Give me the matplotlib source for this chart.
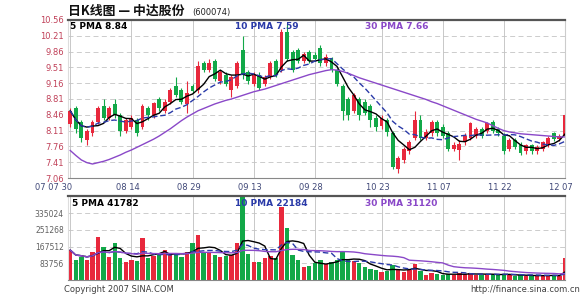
import matplotlib.pyplot as plt
import numpy as np
import pandas as pd
from matplotlib.transforms import blended_transform_factory

plt.rcParams['font.family'] = ['Noto Sans CJK SC', 'DejaVu Sans']

# daily candles, trading days 07-30 .. 12-07
opens = [8.25, 8.60, 8.30, 7.90, 8.05, 8.30, 8.65, 8.40, 8.70, 8.45,
         8.10, 8.20, 8.35, 8.20, 8.60, 8.45, 8.80, 8.55, 8.75, 9.10,
         9.00, 8.70, 9.10, 9.00, 9.60, 9.45, 9.65, 9.20, 9.35, 9.00,
         9.10, 9.90, 9.40, 9.15, 9.35, 9.15, 9.30, 9.65, 9.45, 10.30,
         9.85, 9.90, 9.65, 9.85, 9.78, 9.95, 9.60, 9.70, 9.45, 9.10,
         8.80, 8.55, 8.80, 8.75, 8.65, 8.40, 8.22, 8.35, 8.05, 7.25,
         7.45, 7.65, 7.95, 8.35, 7.95, 8.05, 8.30, 8.20, 8.05, 7.70,
         7.68, 7.85, 7.95, 8.00, 8.15, 8.10, 8.30, 8.15, 8.00, 7.70,
         7.90, 7.80, 7.65, 7.78, 7.65, 7.70, 7.80, 8.05, 7.92, 8.00]
closes = [8.55, 8.15, 7.95, 8.10, 8.30, 8.60, 8.40, 8.60, 8.45, 8.10,
          8.35, 8.38, 8.05, 8.65, 8.45, 8.72, 8.60, 8.75, 9.02, 8.90,
          8.75, 8.95, 8.98, 9.55, 9.45, 9.60, 9.25, 9.40, 9.15, 9.30,
          9.60, 9.35, 9.20, 9.35, 9.05, 9.30, 9.60, 9.35, 10.30, 9.70,
          9.45, 9.65, 9.80, 9.65, 9.70, 9.60, 9.75, 9.45, 9.15, 8.55,
          8.45, 8.90, 8.45, 8.50, 8.35, 8.20, 8.38, 8.08, 7.30, 7.50,
          7.70, 7.85, 8.35, 7.95, 8.08, 8.30, 8.05, 8.00, 7.70, 7.80,
          7.82, 8.00, 8.28, 8.15, 8.00, 8.28, 8.10, 8.05, 7.65, 7.90,
          7.75, 7.62, 7.78, 7.65, 7.75, 7.85, 7.95, 7.92, 8.00, 8.45]
highs = [8.60, 8.65, 8.35, 8.15, 8.35, 8.65, 8.80, 8.65, 8.80, 8.50,
         8.40, 8.45, 8.40, 8.70, 8.65, 8.75, 8.85, 8.80, 9.05, 9.30,
         9.05, 9.20, 9.15, 9.65, 9.65, 9.70, 9.70, 9.45, 9.40, 9.35,
         9.65, 10.20, 9.45, 9.40, 9.40, 9.35, 9.65, 9.70, 10.35, 10.50,
         9.90, 9.95, 9.85, 9.90, 9.85, 10.00, 9.80, 9.75, 9.50, 9.15,
         8.85, 8.95, 8.85, 8.80, 8.70, 8.45, 8.45, 8.40, 8.10, 7.55,
         7.75, 7.90, 8.55, 8.45, 8.15, 8.35, 8.35, 8.25, 8.10, 7.85,
         7.90, 8.05, 8.30, 8.20, 8.20, 8.30, 8.35, 8.20, 8.05, 7.95,
         7.95, 7.85, 7.82, 7.82, 7.78, 7.88, 7.98, 8.08, 8.03, 8.50]
lows = [8.20, 8.05, 7.85, 7.80, 8.00, 8.25, 8.35, 8.35, 8.40, 8.00,
        8.05, 8.15, 8.00, 8.15, 8.35, 8.40, 8.55, 8.50, 8.70, 8.85,
        8.70, 8.50, 8.95, 8.95, 9.40, 9.40, 9.20, 9.15, 9.10, 8.85,
        9.05, 9.25, 9.15, 9.10, 9.00, 9.10, 9.25, 9.30, 9.40, 9.65,
        9.40, 9.60, 9.60, 9.60, 9.65, 9.55, 9.55, 9.40, 9.10, 8.35,
        8.35, 8.50, 8.35, 8.45, 8.20, 8.10, 8.15, 8.00, 7.25, 7.18,
        7.40, 7.60, 7.90, 7.90, 7.90, 8.00, 8.00, 7.95, 7.65, 7.65,
        7.45, 7.80, 7.90, 7.95, 7.95, 8.05, 8.05, 8.00, 7.60, 7.65,
        7.70, 7.58, 7.60, 7.60, 7.60, 7.65, 7.75, 7.88, 7.88, 7.98]
volumes = [150000, 100000, 115000, 100000, 140000, 215000, 165000, 115000, 185000, 110000,
           90000, 100000, 95000, 210000, 110000, 120000, 125000, 150000, 135000, 130000,
           115000, 140000, 185000, 225000, 140000, 135000, 125000, 115000, 120000, 125000,
           185000, 430000, 130000, 90000, 90000, 110000, 120000, 110000, 365000, 260000,
           125000, 100000, 65000, 70000, 85000, 100000, 80000, 90000, 100000, 140000,
           100000, 95000, 85000, 65000, 55000, 50000, 40000, 45000, 75000, 50000,
           40000, 50000, 80000, 45000, 25000, 35000, 30000, 25000, 30000, 25000,
           35000, 30000, 35000, 25000, 25000, 30000, 30000, 25000, 30000, 25000,
           20000, 25000, 20000, 25000, 20000, 20000, 25000, 25000, 20000, 110000]
# 30 day line (starts before the window)
ma30_price = [7.67, 7.56, 7.46, 7.40, 7.37, 7.40, 7.43, 7.47, 7.52, 7.57,
              7.63, 7.68, 7.74, 7.80, 7.86, 7.92, 7.99, 8.07, 8.15, 8.24,
              8.33, 8.41, 8.48, 8.55, 8.60, 8.65, 8.70, 8.74, 8.78, 8.81,
              8.85, 8.89, 8.93, 8.97, 9.00, 9.03, 9.07, 9.11, 9.15, 9.19,
              9.23, 9.27, 9.31, 9.35, 9.38, 9.41, 9.44, 9.46, 9.45, 9.42,
              9.38, 9.33, 9.28, 9.24, 9.20, 9.16, 9.12, 9.08, 9.04, 9.00,
              8.96, 8.92, 8.88, 8.84, 8.80, 8.75, 8.71, 8.66, 8.61, 8.56,
              8.51, 8.46, 8.41, 8.36, 8.32, 8.28, 8.22, 8.16, 8.11, 8.08,
              8.06, 8.04, 8.03, 8.02, 8.01, 8.00, 7.99, 7.98, 7.97, 7.97]

price_ticks = [7.06, 7.41, 7.76, 8.11, 8.46, 8.81, 9.16, 9.51, 9.86, 10.21, 10.56]
vol_ticks = [83756, 167512, 251268, 335024]
date_pos = [0, 11, 22, 33, 44, 56, 67, 78, 89]
date_labels = ["07 07 30", "08 14", "08 29", "09 13", "09 28", "10 23", "11 07", "11 22", "12 07"]

RED = "#e8283c"
GREEN = "#12a848"
BLUE = "#2a3aa8"
PURPLE = "#8a48c8"

days = np.arange(len(closes))
o = np.array(opens)
c = np.array(closes)
up = c >= o
colors = np.where(up, RED, GREEN)

ma5 = pd.Series(closes).rolling(5, min_periods=1).mean()
ma10 = pd.Series(closes).rolling(10, min_periods=1).mean()
vma5 = pd.Series(volumes).rolling(5, min_periods=1).mean()
vma10 = pd.Series(volumes).rolling(10, min_periods=1).mean()
vma30 = pd.Series(volumes).rolling(30, min_periods=1).mean()

fig = plt.figure(figsize=(5.85, 2.97), dpi=100)
ax = fig.add_axes([68 / 585, 1 - 178 / 297, 497 / 585, 158 / 297])
axv = fig.add_axes([68 / 585, 1 - 280 / 297, 497 / 585, 84 / 297])

for a in (ax, axv):
    a.set_xlim(-0.4, 89.0)
    a.set_xticks([])
    for p in date_pos:
        a.axvline(p, color="#c8c8c8", lw=0.7, zorder=0)
    a.spines["top"].set_color("#555555")
    a.spines["top"].set_linewidth(1.6)
    a.spines["bottom"].set_color("#888888")
    a.spines["left"].set_color("#dddddd")
    a.spines["right"].set_color("#cccccc")
    a.tick_params(axis="y", length=0, pad=3)

# price panel
ax.vlines(days, lows, highs, colors=colors, lw=0.8, zorder=2)
ax.bar(days, np.maximum(np.abs(c - o), 0.02), bottom=np.minimum(o, c),
       width=0.7, color=colors, zorder=3)
ax.plot(days, ma5, color="black", lw=1.0, zorder=4)
ax.plot(days, ma10, color=BLUE, lw=1.0, ls=(0, (4, 2)), zorder=4)
ax.plot(days, ma30_price, color=PURPLE, lw=1.0, zorder=4)
ax.set_ylim(7.06, 10.56)
ax.set_yticks(price_ticks)
ax.set_yticklabels([f"{t:.2f}" for t in price_ticks], fontsize=6,
                   color="#c04058", family="DejaVu Sans")
for t in price_ticks[1:-1]:
    ax.axhline(t, color="#c4c4c4", lw=0.6, ls=(0, (6, 4)), zorder=0)

ax.text(0.004, 0.985, "5 PMA 8.84", transform=ax.transAxes, fontsize=6.5,
        fontweight="bold", color="black", va="top", family="DejaVu Sans")
ax.text(0.336, 0.985, "10 PMA 7.59", transform=ax.transAxes, fontsize=6.5,
        fontweight="bold", color=BLUE, va="top", family="DejaVu Sans")
ax.text(0.598, 0.985, "30 PMA 7.66", transform=ax.transAxes, fontsize=6.5,
        fontweight="bold", color=PURPLE, va="top", family="DejaVu Sans")

trans = blended_transform_factory(ax.transData, ax.transAxes)
for p, lab in zip(date_pos, date_labels):
    if p == 0:
        ax.text(p + 0.3, -0.058, lab, transform=trans, ha="right", va="center",
                fontsize=6, color="#404878", family="DejaVu Sans")
    else:
        ax.text(p - 0.7, -0.058, lab, transform=trans, ha="center", va="center",
                fontsize=6, color="#404878", family="DejaVu Sans")

# volume panel
axv.bar(days, volumes, width=0.78, color=colors, zorder=2)
axv.plot(days, vma5, color="black", lw=1.0, zorder=4)
axv.plot(days, vma10, color=BLUE, lw=1.0, ls=(0, (4, 2)), zorder=4)
axv.plot(days, vma30, color=PURPLE, lw=1.0, zorder=4)
axv.set_ylim(0, 421000)
axv.set_yticks(vol_ticks)
axv.set_yticklabels([str(t) for t in vol_ticks], fontsize=5.5,
                    color="#606060", family="DejaVu Sans")
for t in vol_ticks:
    axv.axhline(t, color="#c4c4c4", lw=0.6, ls=(0, (6, 4)), zorder=0)

axv.text(0.008, 0.97, "5 PMA 41782", transform=axv.transAxes, fontsize=6.5,
         fontweight="bold", color="black", va="top", family="DejaVu Sans")
axv.text(0.336, 0.97, "10 PMA 22184", transform=axv.transAxes, fontsize=6.5,
         fontweight="bold", color=BLUE, va="top", family="DejaVu Sans")
axv.text(0.598, 0.97, "30 PMA 31120", transform=axv.transAxes, fontsize=6.5,
         fontweight="bold", color=PURPLE, va="top", family="DejaVu Sans")

# title and footer
fig.text(68 / 585, 1 - 11 / 297, "日K线图 — 中达股份", fontsize=9.3,
         fontweight="bold", ha="left", va="center", color="#111111")
fig.text(192 / 585, 1 - 12 / 297, "(600074)", fontsize=6, ha="left",
         va="center", color="#222222", family="DejaVu Sans")
fig.text(64 / 585, 1 - 290 / 297, "Copyright 2007 SINA.COM", fontsize=6,
         ha="left", va="center", color="#404040", family="DejaVu Sans")
fig.text(580 / 585, 1 - 290 / 297, "http://finance.sina.com.cn", fontsize=6,
         ha="right", va="center", color="#404040", family="DejaVu Sans")

fig.savefig("out.png", dpi=100)
